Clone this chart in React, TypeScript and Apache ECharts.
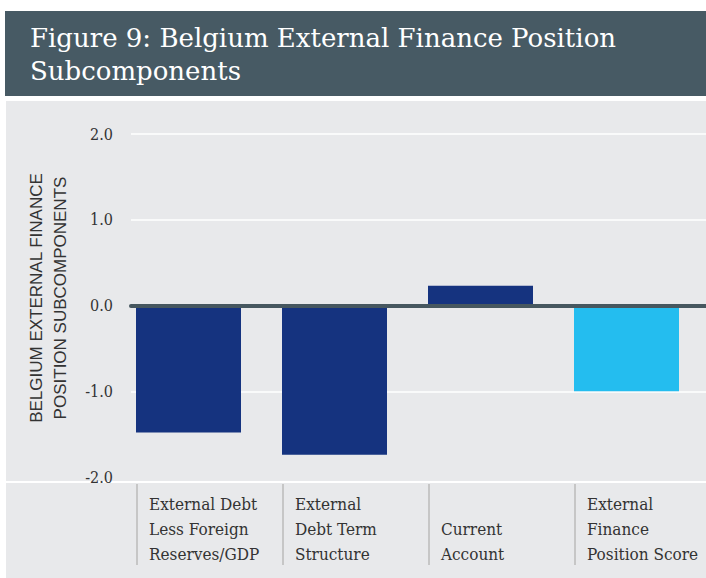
import React, { useEffect, useRef } from "react";
import * as echarts from "echarts";

const categories = [
  "External Debt\nLess Foreign\nReserves/GDP",
  "External\nDebt Term\nStructure",
  "Current\nAccount",
  "External\nFinance\nPosition Score",
];
const values = [-1.48, -1.74, 0.23, -1.0];
const barColors = ["#15337f", "#15337f", "#15337f", "#24bdef"];
const yTicks = { min: -2, max: 2, interval: 1 };
const titleText = "Figure 9: Belgium External Finance Position\nSubcomponents";
const yName = "BELGIUM EXTERNAL FINANCE\nPOSITION SUBCOMPONENTS";

const SERIF = "'DejaVu Serif Condensed', 'DejaVu Serif', serif";
const TITLE_SERIF = "'DejaVu Serif', serif";
const SANS = "'Liberation Sans', Arial, sans-serif";

export default function App() {
  const ref = useRef<HTMLDivElement>(null);
  useEffect(() => {
    if (!ref.current) return;
    const chart = echarts.init(ref.current, null, { renderer: "svg" });
    const top = 134;
    const h = 343;
    chart.setOption({
      animation: false,
      backgroundColor: "#ffffff",
      title: {
        text: titleText,
        left: 30,
        top: 21,
        padding: 0,
        textStyle: { color: "#ffffff", fontFamily: TITLE_SERIF, fontSize: 26, fontWeight: "normal", lineHeight: 33 },
      },
      graphic: [
        { type: "rect", z: -10, shape: { x: 5, y: 11, width: 701, height: 85 }, style: { fill: "#475a64" } },
        { type: "rect", z: -10, shape: { x: 6, y: 101, width: 700, height: 477 }, style: { fill: "#e8e9eb" } },
        { type: "rect", z: -5, shape: { x: 6, y: 481, width: 700, height: 2 }, style: { fill: "#ffffff" } },
        {
          type: "text",
          x: 48,
          y: 298,
          rotation: Math.PI / 2,
          style: {
            text: yName,
            align: "center",
            verticalAlign: "middle",
            fontFamily: SANS,
            fontSize: 17,
            lineHeight: 24,
            fill: "#333333",
          },
        },
      ],
      grid: [
        { left: 131, right: 0, top, height: h },
        { left: 115.5, width: 584, top, height: h },
        { left: 137, width: 438, top, height: 350 },
        { left: 76, width: 584, top, height: 350 },
      ],
      xAxis: [
        {
          gridIndex: 0,
          type: "category",
          data: categories,
          z: 10,
          axisLine: { show: true, onZero: true, lineStyle: { color: "#46575f", width: 4 } },
          axisTick: { show: false },
          axisLabel: { show: false },
          splitLine: { show: false },
        },
        {
          gridIndex: 1,
          type: "category",
          data: categories,
          show: false,
        },
        {
          gridIndex: 2,
          type: "category",
          data: categories.slice(0, 3),
          axisLine: { show: false },
          axisTick: { show: true, interval: 0, length: 81, lineStyle: { color: "#c6c6c6", width: 2 } },
          axisLabel: { show: false },
        },
        {
          gridIndex: 3,
          type: "category",
          data: categories,
          axisLine: { show: false },
          axisTick: { show: false },
          axisLabel: {
            show: true,
            interval: 0,
            align: "left",
            verticalAlign: "bottom",
            margin: 82,
            fontFamily: SERIF,
            fontSize: 17,
            lineHeight: 25,
            color: "#333333",
          },
        },
      ],
      yAxis: [
        {
          gridIndex: 0,
          type: "value",
          min: yTicks.min,
          max: yTicks.max,
          interval: yTicks.interval,
          axisLine: { show: false },
          axisTick: { show: false },
          axisLabel: {
            formatter: (v: number) => v.toFixed(1),
            margin: 18,
            fontFamily: SERIF,
            fontSize: 16,
            color: "#333333",
            padding: [0, 0, 10, 0],
          },
          splitLine: { show: true, showMinLine: false, lineStyle: { color: "#ffffff", width: 1.5 } },
        },
        { gridIndex: 1, type: "value", min: yTicks.min, max: yTicks.max, interval: yTicks.interval, show: false, splitLine: { show: false } },
        { gridIndex: 2, type: "value", show: false, splitLine: { show: false } },
        { gridIndex: 3, type: "value", show: false, splitLine: { show: false } },
      ],
      series: [
        {
          type: "bar",
          xAxisIndex: 1,
          yAxisIndex: 1,
          barWidth: 105,
          z: 2,
          data: values.map((v, i) => ({ value: v, itemStyle: { color: barColors[i] } })),
        },
      ],
    });
    return () => chart.dispose();
  }, []);
  return <div ref={ref} style={{ position: "fixed", left: 0, top: 0, width: 706, height: 578 }} />;
}
